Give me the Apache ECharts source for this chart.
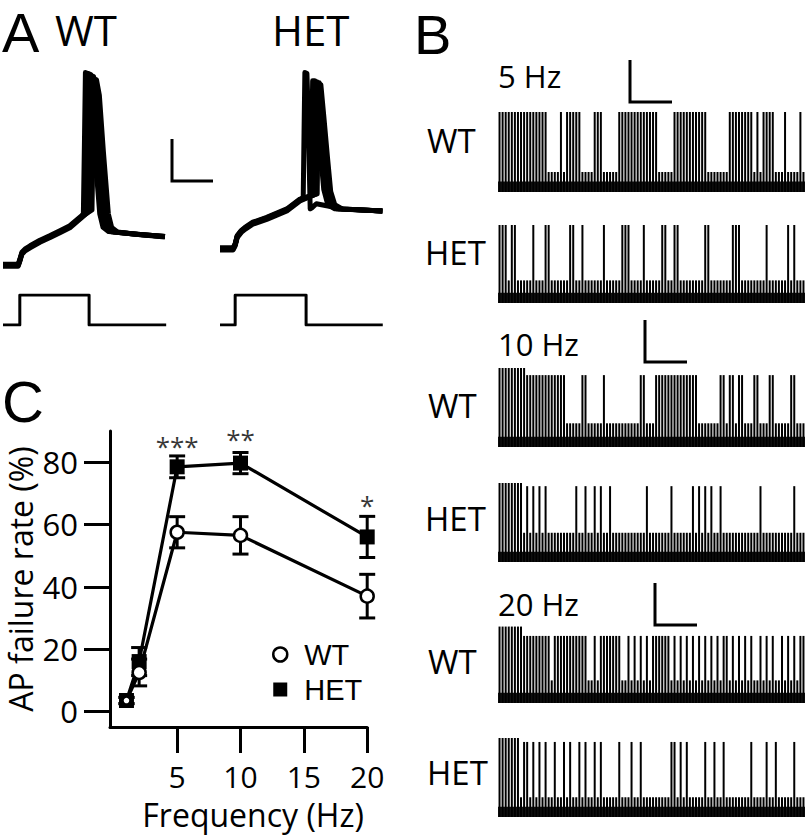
<!DOCTYPE html>
<html><head><meta charset="utf-8">
<script src="https://cdn.jsdelivr.net/npm/echarts@6/dist/echarts.min.js"></script>
<style>html,body{margin:0;padding:0;background:#fff}#c{width:807px;height:835px}</style>
</head><body><div id="c"></div>
<script>
const FONT = "'Open Sans', 'Noto Sans', sans-serif";
const FONT2 = "'Liberation Sans', Arial, sans-serif";

// ---------------- Panel C data ----------------
const freqHz = [1, 2, 5, 10, 20];
const wtFail = [3.5, 12.5, 57.5, 56.5, 37];
const wtSem = [1, 4.3, 5, 6, 7];
const hetFail = [3.5, 16, 78.5, 79.7, 56];
const hetSem = [1, 4.5, 3.5, 3.4, 6.6];
const yTickVals = [0, 20, 40, 60, 80];
const xTickVals = [5, 10, 15, 20];
const sigFreq = [5, 10, 20];
const sigY = [85.3, 87.3, 66.4];
const sigText = ['***', '**', '*'];

// ---------------- Panel A data (time ms, membrane potential mV) ----------------
const wtSweep1 = [[0,-75],[3.7,-75],[4.2,-72],[4.6,-69.2],[5.4,-67.5],[6.6,-66],[9,-63.3],[11.5,-61],[14,-58.5],[16.3,-56.2],[19.2,-51.3],[19.6,-50],[19.9,-10],[20.1,19],[20.7,18.5],[21.4,8],[22.4,-20],[23.6,-50],[24.4,-56.5],[25.8,-58.6],[32,-59.8],[39.5,-61]];
const wtSweep2 = [[0,-74.5],[3.7,-74.5],[4.2,-71.5],[4.6,-68.7],[5.4,-67],[6.6,-65.5],[9,-62.8],[11.5,-60.5],[14,-58],[16.3,-55.7],[19.2,-50.8],[20.3,-49.2],[20.6,-10],[20.8,18.5],[21.4,18],[22.1,8],[23.1,-20],[24.3,-50],[25.1,-56.5],[26.5,-58.7],[32,-59.8],[39.5,-61]];
const wtSweep3 = [[0,-75.5],[3.7,-75.5],[4.2,-72.5],[4.6,-69.7],[5.4,-68],[6.6,-66.5],[9,-63.8],[11.5,-61.5],[14,-59],[16.3,-56.7],[19.2,-51.8],[21.0,-48.6],[21.3,-10],[21.5,17.5],[22.1,17],[22.8,8],[23.8,-20],[25.0,-50],[25.8,-56.5],[27.2,-58.8],[33,-60],[39.5,-61]];
const wtSweep4 = [[0,-75],[3.7,-75],[4.2,-72],[4.6,-69.2],[5.4,-67.5],[6.6,-66],[9,-63.3],[11.5,-61],[14,-58.5],[16.3,-56.2],[19.2,-51.3],[21.7,-48],[22.0,-10],[22.2,16],[22.8,15.5],[23.5,8],[24.5,-20],[25.7,-50],[26.5,-56.5],[27.9,-58.8],[33,-60],[39.5,-61.2]];
const hetSweep1 = [[0,-67],[3.2,-67],[3.7,-65],[4.2,-61],[5.2,-58.5],[6.1,-57],[8,-54.5],[11.4,-52.1],[16.3,-48],[19.5,-43.2],[20.3,-42],[20.5,-10],[20.7,19],[21.2,18.5],[21.5,0],[21.8,-30],[22.0,-47.5],[22.4,-47],[23.5,-45],[26,-46],[30,-47.5],[39.6,-48.5]];
const hetSweep2 = [[0,-66.5],[3.2,-66.5],[3.7,-64.5],[4.2,-60.5],[5.2,-58],[6.1,-56.5],[8,-54],[11.4,-51.6],[16.3,-47.5],[19.5,-42.7],[22.2,-41],[22.4,-10],[22.6,15],[23.1,15],[23.7,0],[24.5,-20],[25.3,-38],[26.3,-45.5],[28,-47.5],[39.6,-48.5]];
const hetSweep3 = [[0,-67.5],[3.2,-67.5],[3.7,-65.5],[4.2,-61.5],[5.2,-59],[6.1,-57.5],[8,-55],[11.4,-52.6],[16.3,-48.5],[19.5,-43.7],[22.7,-40.8],[22.9,-10],[23.1,14.5],[23.6,14.5],[24.2,0],[25.0,-20],[25.8,-38],[26.8,-45.5],[28.5,-47.5],[39.6,-48.5]];
const hetSweep4 = [[0,-67],[3.2,-67],[3.7,-65],[4.2,-61],[5.2,-58.5],[6.1,-57],[8,-54.5],[11.4,-52.1],[16.3,-48],[19.5,-43.2],[23.2,-40.5],[23.4,-10],[23.6,14],[24.2,14],[24.8,0],[25.6,-20],[26.4,-38],[27.4,-45.5],[29,-47.5],[39.6,-48.5]];
const hetSweep5 = [[0,-66.8],[3.2,-66.8],[3.7,-64.8],[4.2,-60.8],[5.2,-58.3],[6.1,-56.8],[8,-54.3],[11.4,-51.9],[16.3,-47.8],[19.5,-43],[23.7,-40.2],[23.9,-10],[24.1,13.5],[24.6,13],[25.3,-2],[26.2,-22],[27.0,-39],[28.0,-45.5],[29.8,-47.5],[39.6,-48.5]];
const wtStep = [[0,0],[4.1,0],[4.1,1],[21.0,1],[21.0,0],[39.8,0]];
const hetStep = [[0,0],[3.7,0],[3.7,1],[21.0,1],[21.0,0],[39.7,0]];

// ---------------- Panel B data ----------------
// runs [first, last] of stimulus numbers (0..99) that evoked a full action potential
const nStim = 100;
const wt5HzRuns = [[0,15],[20,20],[22,26],[31,33],[39,51],[57,67],[75,82],[84,84],[86,89],[93,93],[98,98]];
const het5HzRuns = [[0,2],[4,5],[11,11],[15,16],[23,24],[27,27],[34,34],[40,42],[47,47],[53,54],[57,58],[67,68],[76,78],[87,87],[94,94],[96,96]];
const wt10HzRuns = [[0,21],[27,28],[34,34],[46,47],[51,64],[72,73],[75,76],[78,79],[83,84],[88,89],[95,96]];
const het10HzRuns = [[0,7],[9,9],[11,11],[13,13],[15,15],[25,25],[28,28],[31,31],[33,33],[36,36],[48,48],[56,56],[63,63],[65,65],[67,67],[69,69],[72,72],[85,85],[96,96]];
const wt20HzRuns = [[0,16],[18,28],[31,31],[33,39],[42,42],[44,44],[46,46],[48,48],[50,55],[57,57],[59,59],[61,61],[63,63],[65,65],[67,67],[69,69],[71,71],[73,74],[76,76],[78,78],[80,80],[82,82],[85,85],[87,87],[89,89],[92,92],[94,94],[96,96],[98,99]];
const het20HzRuns = [[0,6],[8,9],[11,11],[13,13],[15,15],[18,18],[21,21],[23,23],[26,26],[28,28],[31,31],[33,33],[39,39],[43,43],[46,46],[56,57],[59,59],[61,61],[67,67],[70,70],[73,73],[82,82],[87,87],[90,90],[96,96]];
// relative peak levels: [full AP, failure, number of early APs, early AP]
const wt5HzLevels = [1, 0.25, 0, 1];
const het5HzLevels = [1, 0.29, 0, 1];
const wt10HzLevels = [0.91, 0.30, 9, 1];
const het10HzLevels = [0.96, 0.37, 8, 1];
const wt20HzLevels = [0.86, 0.29, 8, 0.98];
const het20HzLevels = [0.95, 0.25, 8, 1];

// ---------------- build ----------------
const chart = echarts.init(document.getElementById('c'), null, {renderer: 'svg', width: 807, height: 835});

const grids = [], xAxes = [], yAxes = [], series = [];
function addGrid(g, xa, ya) {
  const idx = grids.length;
  grids.push(Object.assign({containLabel: false}, g));
  xAxes.push(Object.assign({gridIndex: idx, show: false}, xa));
  yAxes.push(Object.assign({gridIndex: idx, show: false}, ya));
  return idx;
}
function traceLine(idx, data, w) {
  series.push({type: 'line', xAxisIndex: idx, yAxisIndex: idx, data: data, symbol: 'none', silent: true,
    lineStyle: {color: '#000', width: w, join: 'round', cap: 'butt'}});
}

// Panel A
const gAwt = addGrid({left: 3, top: 50, width: 164, height: 225.5}, {type: 'value', min: 0, max: 40}, {type: 'value', min: -80, max: 30});
const gAhet = addGrid({left: 220, top: 50, width: 164, height: 225.5}, {type: 'value', min: 0, max: 40}, {type: 'value', min: -80, max: 30});
const gSwt = addGrid({left: 3, top: 295, width: 164, height: 30}, {type: 'value', min: 0, max: 40}, {type: 'value', min: 0, max: 1});
const gShet = addGrid({left: 220, top: 295, width: 164, height: 30}, {type: 'value', min: 0, max: 40}, {type: 'value', min: 0, max: 1});
[wtSweep1, wtSweep2, wtSweep3, wtSweep4].forEach(d => traceLine(gAwt, d, 5));
[hetSweep1, hetSweep2, hetSweep3, hetSweep4, hetSweep5].forEach(d => traceLine(gAhet, d, 5));
traceLine(gSwt, wtStep, 3);
traceLine(gShet, hetStep, 3);

// Panel B
const bTraces = [
  [wt5HzRuns, wt5HzLevels, 112, 80],
  [het5HzRuns, het5HzLevels, 225, 78],
  [wt10HzRuns, wt10HzLevels, 368, 79],
  [het10HzRuns, het10HzLevels, 483, 79],
  [wt20HzRuns, wt20HzLevels, 625, 78],
  [het20HzRuns, het20HzLevels, 738, 79]
];
const stimNames = [];
for (let i = 0; i < nStim; i++) stimNames.push(String(i + 1));
bTraces.forEach(([runs, lv, top, h]) => {
  const idx = addGrid({left: 498, top: top, width: 307, height: h},
    {type: 'category', data: stimNames}, {type: 'value', min: 0, max: 1});
  const vals = stimNames.map((n, i) => {
    const hit = runs.some(r => i >= r[0] && i <= r[1]);
    return hit ? (i < lv[2] ? lv[3] : lv[0]) : lv[1];
  });
  series.push({type: 'bar', xAxisIndex: idx, yAxisIndex: idx, data: vals, barWidth: 2, silent: true,
    itemStyle: {color: '#000'},
    markArea: {silent: true, itemStyle: {color: '#000', opacity: 0.92}, data: [[{yAxis: 0}, {yAxis: 0.13}]]}});
});

// Panel C
const gC = addGrid({left: 110, top: 431, width: 257.2, height: 296},
  {show: true, type: 'value', min: -0.3, max: 20,
   axisLine: {show: true, onZero: false, lineStyle: {color: '#000', width: 3}},
   axisTick: {show: true, customValues: xTickVals, length: 26, lineStyle: {color: '#000', width: 3}},
   axisLabel: {show: true, customValues: xTickVals, fontSize: 30, lineHeight: 24, fontFamily: FONT, color: '#000', margin: 37},
   splitLine: {show: false},
   name: 'Frequency (Hz)', nameLocation: 'middle', nameGap: 73,
   nameTextStyle: {fontSize: 32, lineHeight: 28, fontFamily: FONT, color: '#000', padding: [0, 0, 0, 29]}},
  {show: true, type: 'value', min: -5, max: 90,
   axisLine: {show: true, onZero: false, lineStyle: {color: '#000', width: 3}},
   axisTick: {show: true, customValues: yTickVals, length: 26, lineStyle: {color: '#000', width: 3}},
   axisLabel: {show: true, customValues: yTickVals, fontSize: 31, fontFamily: FONT, color: '#000', margin: 32},
   splitLine: {show: false},
   name: 'AP failure rate (%)', nameLocation: 'middle', nameGap: 74,
   nameTextStyle: {fontSize: 32, fontFamily: FONT, color: '#000'}});

function errRender(params, api) {
  const x = api.value(0), m = api.value(1), e = api.value(2);
  const t = api.coord([x, m + e]), b = api.coord([x, m - e]);
  const hw = 8;
  const st = {stroke: '#000', lineWidth: 3};
  return {type: 'group', children: [
    {type: 'line', shape: {x1: t[0], y1: t[1], x2: b[0], y2: b[1]}, style: st},
    {type: 'line', shape: {x1: t[0] - hw, y1: t[1], x2: t[0] + hw, y2: t[1]}, style: st},
    {type: 'line', shape: {x1: b[0] - hw, y1: b[1], x2: b[0] + hw, y2: b[1]}, style: st}
  ]};
}
series.push({type: 'custom', xAxisIndex: gC, yAxisIndex: gC, renderItem: errRender, z: 2, silent: true,
  data: freqHz.map((f, i) => [f, hetFail[i], hetSem[i]])});
series.push({type: 'custom', xAxisIndex: gC, yAxisIndex: gC, renderItem: errRender, z: 2, silent: true,
  data: freqHz.map((f, i) => [f, wtFail[i], wtSem[i]])});
series.push({name: 'HET', type: 'line', xAxisIndex: gC, yAxisIndex: gC, z: 3, silent: true,
  data: freqHz.map((f, i) => [f, hetFail[i]]),
  symbol: 'rect', symbolSize: 15, itemStyle: {color: '#000'}, lineStyle: {color: '#000', width: 3.2}});
series.push({name: 'WT', type: 'line', xAxisIndex: gC, yAxisIndex: gC, z: 4, silent: true,
  data: freqHz.map((f, i) => [f, wtFail[i]]),
  symbol: 'circle', symbolSize: (v, p) => (p.dataIndex === 0 ? 8 : 13),
  itemStyle: {color: '#fff', borderColor: '#000', borderWidth: 2.5}, lineStyle: {color: '#000', width: 3.2}});
series.push({type: 'scatter', xAxisIndex: gC, yAxisIndex: gC, z: 5, silent: true, symbolSize: 0,
  data: sigFreq.map((f, i) => [f, sigY[i], sigText[i]]),
  label: {show: true, position: 'inside', formatter: p => p.value[2], fontSize: 26, fontFamily: FONT, color: '#000'}});

function txt(s, x, y, size, lh, fam) {
  return {type: 'text', x: x, y: y, silent: true,
    style: {text: s, fontSize: size, lineHeight: lh || size, fontFamily: fam || FONT, fill: '#000', align: 'left', verticalAlign: 'middle'}};
}
function bar(pts) {
  return {type: 'polyline', silent: true, shape: {points: pts}, style: {stroke: '#000', lineWidth: 3, fill: null}};
}

chart.setOption({
  animation: false,
  backgroundColor: '#fff',
  grid: grids, xAxis: xAxes, yAxis: yAxes, series: series,
  legend: {left: 267, top: 635, orient: 'vertical', itemWidth: 14, itemHeight: 14, itemGap: 6, selectedMode: false,
    textStyle: {fontSize: 29, fontFamily: FONT2, color: '#000', lineHeight: 27, padding: [0, 0, 0, 12]},
    data: [
      {name: 'WT', icon: 'circle', itemStyle: {color: '#fff', borderColor: '#000', borderWidth: 2.5}},
      {name: 'HET', icon: 'rect', itemStyle: {color: '#000'}}
    ]},
  graphic: [
    txt('A', 2, 32, 56, 44, FONT2), txt('WT', 55, 29, 42, 34), txt('HET', 272, 29, 42, 34),
    txt('B', 414, 34, 56, 44, FONT2), txt('C', 2, 401, 58, 44, FONT2),
    txt('5 Hz', 498, 76, 31), txt('10 Hz', 498, 344, 31), txt('20 Hz', 498, 604, 31),
    txt('WT', 427, 140, 33), txt('HET', 425, 252, 33),
    txt('WT', 428, 405, 33), txt('HET', 425, 518, 33),
    txt('WT', 428, 661, 33), txt('HET', 427, 772, 33),
    bar([[172, 139], [172, 181], [213, 181]]),
    bar([[630, 60], [630, 102], [672, 102]]),
    bar([[645, 320], [645, 362], [687, 362]]),
    bar([[655, 583], [655, 625], [697, 625]])
  ]
});
</script></body></html>
